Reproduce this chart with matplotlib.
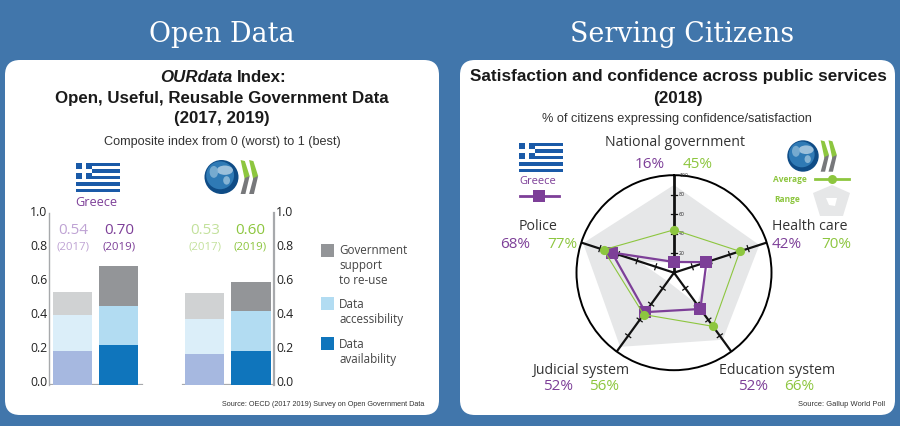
import numpy as np
import matplotlib
matplotlib.use("Agg")
import matplotlib.pyplot as plt
from matplotlib.patches import FancyBboxPatch, Rectangle, Polygon, Circle, Ellipse
from matplotlib.transforms import ScaledTranslation

# ---- data ----
bar_groups = ["Greece 2017", "Greece 2019", "OECD 2017", "OECD 2019"]
availability = [0.20, 0.23, 0.18, 0.20]
accessibility = [0.205, 0.23, 0.205, 0.23]
support = [0.135, 0.23, 0.15, 0.17]
bar_ticks = [0.0, 0.2, 0.4, 0.6, 0.8, 1.0]

services = ["National government", "Health care", "Education system", "Judicial system", "Police"]
greece_labels = ["16%", "42%", "52%", "52%", "68%"]
average_labels = ["45%", "70%", "66%", "56%", "77%"]
# marker radii as drawn in the picture
greece = [11, 35, 46, 50, 67]
average = [44, 71, 68, 53, 76]
range_high = [90, 92, 85, 94, 98]
range_low = [10, 40, 40, 11, 38]
radar_ticks = [20, 40, 60, 80, 100]

BLUE = "#4176ab"; PURPLE = "#7d3f98"; GREEN = "#8dc63f"; LPURPLE = "#bfa3d4"; LGREEN = "#c3e19c"
SANS = "Liberation Sans"; BODY = "Open Sans"
W, H = 900, 426
fig = plt.figure(figsize=(W/100, H/100), dpi=100, facecolor=BLUE)

def px_axes(x0, y0, x1, y1, **kw):
    return fig.add_axes([x0/W, 1-y1/H, (x1-x0)/W, (y1-y0)/H], **kw)

bg = px_axes(0, 0, W, H, zorder=0); bg.set_xlim(0, W); bg.set_ylim(H, 0); bg.axis("off")
for x0, x1 in [(5, 439), (460, 895)]:
    bg.add_patch(FancyBboxPatch((x0+15, 60+15), x1-x0-30, 355-30, boxstyle="round,pad=15,rounding_size=15",
                                fc="white", ec="none"))

ov = px_axes(0, 0, W, H, zorder=5); ov.set_xlim(0, W); ov.set_ylim(H, 0); ov.axis("off")
def T(x, y, s, size, color="#222222", family=BODY, ha="center", **kw):
    ov.text(x, y, s, fontsize=size, color=color, family=family, ha=ha, va="center", **kw)

T(222, 35, "Open Data", 19.4, "white", "DejaVu Serif")
T(682, 35, "Serving Citizens", 19.4, "white", "DejaVu Serif")
T(196, 78, "OURdata", 12.15, "#1a1a1a", SANS, fontweight="bold", fontstyle="italic")
T(262, 78, "Index:", 12.15, "#1a1a1a", SANS, fontweight="bold")
T(222, 98, "Open, Useful, Reusable Government Data", 12.15, "#1a1a1a", SANS, fontweight="bold")
T(222, 118, "(2017, 2019)", 12.15, "#1a1a1a", SANS, fontweight="bold")
T(222, 142, "Composite index from 0 (worst) to 1 (best)", 9.1, "#333333", SANS)
T(678, 77, "Satisfaction and confidence across public services", 12.3, "#1a1a1a", SANS, fontweight="bold")
T(678, 98, "(2018)", 12.3, "#1a1a1a", SANS, fontweight="bold")
T(677, 119, "% of citizens expressing confidence/satisfaction", 9.2, "#333333", SANS)
T(424, 404, "Source: OECD (2017 2019) Survey on Open Government Data", 5.25, "#333333", SANS, ha="right")
T(885, 404, "Source: Gallup World Poll", 5.4, "#333333", SANS, ha="right")

# flags
def flag(x, y, w=44, h=29):
    c = "#1a5aa8"
    n = 9; sh = h/n
    for i in range(0, n, 2):
        ov.add_patch(Rectangle((x, y+i*sh), w, sh, fc=c, ec="none"))
    ov.add_patch(Rectangle((x, y), sh*5, sh*5, fc=c, ec="none"))
    ov.add_patch(Rectangle((x+sh*2, y), sh, sh*5, fc="white", ec="none"))
    ov.add_patch(Rectangle((x, y+sh*2), sh*5, sh, fc="white", ec="none"))
flag(76, 163); flag(519, 143)
T(96, 202, "Greece", 9.2, PURPLE); T(538, 182, "Greece", 8, PURPLE)

# OECD logos
def logo(cx, cy, r):
    ov.add_patch(Circle((cx, cy), r, fc="#0f4c86", ec="none"))
    ov.add_patch(Circle((cx-r*0.08, cy-r*0.1), r*0.82, fc="#2f7ab5", ec="none"))
    ov.add_patch(Ellipse((cx+r*0.2, cy-r*0.4), r*0.95, r*0.55, fc="#a9c8e0", ec="none", alpha=.9))
    ov.add_patch(Ellipse((cx-r*0.45, cy-r*0.3), r*0.5, r*0.7, fc="#7fb0d3", ec="none", alpha=.9))
    ov.add_patch(Ellipse((cx+r*0.3, cy+r*0.2), r*0.4, r*0.5, fc="#8fbad8", ec="none", alpha=.9))
    s = r/16
    for dx in (0, 8*s):
        x0 = cx + r + 2*s + dx
        ov.add_patch(Polygon([(x0, cy-16*s), (x0+4*s, cy-15*s), (x0+8.5*s, cy-1*s), (x0+4*s, cy+3*s)],
                             fc=GREEN, ec="none"))
        ov.add_patch(Polygon([(x0+8.5*s, cy-1*s), (x0+4.5*s, cy+16*s), (x0, cy+16*s), (x0+4*s, cy+1*s)],
                             fc="#77787b", ec="none"))
logo(221.5, 177, 17); logo(803, 156, 15.7)

# ---- bar chart ----
ax = px_axes(49, 213, 274, 385, zorder=2)
ax.patch.set_alpha(0)
ax.set_xlim(49, 274); ax.set_ylim(0, 1)
pos = [72.5, 118.5, 204.5, 251]
c2017 = ["#a6b8e0", "#dbeef9", "#d0d2d3"]; c2019 = ["#0f75bc", "#b2dcf2", "#939598"]
bottom = np.zeros(4)
for k, vals in enumerate([availability, accessibility, support]):
    cols = [c2017[k], c2019[k], c2017[k], c2019[k]]
    ax.bar(pos, vals, width=39.5, bottom=bottom, color=cols, zorder=2, linewidth=0)
    bottom += np.array(vals)
for s in ["top", "bottom"]:
    ax.spines[s].set_visible(False)
ax.spines["left"].set_color("#a7a9ac"); ax.spines["left"].set_linewidth(1.0)
ax.spines["right"].set_color("#a7a9ac"); ax.spines["right"].set_linewidth(1.6)
ax.plot([49, 142], [0, 0], color="#a7a9ac", lw=1.6, zorder=1)
ax.plot([183, 274], [0, 0], color="#a7a9ac", lw=1.6, zorder=1)
ax.set_xticks([]); ax.set_yticks(bar_ticks)
ax.tick_params(axis="y", length=0, left=False, right=False, labelleft=False)
for v in bar_ticks:
    y = 382 - 170*v
    T(47.5, y, f"{v:.1f}", 8.8, "#222222", BODY, ha="right")
    T(276, y, f"{v:.1f}", 8.8, "#222222", BODY, ha="left")

for x, val, yr, col in [(73, "0.54", "(2017)", LPURPLE), (119, "0.70", "(2019)", PURPLE),
                        (205, "0.53", "(2017)", LGREEN), (250, "0.60", "(2019)", GREEN)]:
    T(x, 231, val, 11, col); T(x, 247, yr, 8.2, col)

# legend
for y, c in [(250.5, c2019[2]), (303.5, c2019[1]), (343.5, c2019[0])]:
    ov.add_patch(Rectangle((321, y-6.5), 13, 13, fc=c, ec="none"))
for y, s in [(251, "Government"), (266, "support"), (281, "to re-use"), (304, "Data"), (319, "accessibility"),
             (344, "Data"), (359, "availability")]:
    T(339, y, s, 8.4, "#444444", BODY, ha="left")

# ---- radar ----
rad = px_axes(674-97.5, 272.7-97.5, 674+97.5, 272.7+97.5, projection="polar", zorder=3)
rad.patch.set_alpha(0)
rad.set_theta_zero_location("N"); rad.set_theta_direction(-1)
rad.set_ylim(0, 100)
theta = np.linspace(0, 2*np.pi, 5, endpoint=False)
def close(v):
    return np.r_[theta, theta[0]], np.r_[v, v[0]]
rad.fill(*close(range_high), color="#e6e7e8", lw=0, zorder=1)
rad.fill(*close(range_low), color="white", lw=0, zorder=1.1)
rad.set_xticks([]); rad.set_yticks([]); rad.grid(False)
rad.spines["polar"].set_color("black"); rad.spines["polar"].set_linewidth(1.4)
for i, t in enumerate(theta):
    rad.plot([t, t], [0, 100], color="#111111", lw=2.0 if i == 0 else 1.6, zorder=2)
    for r in radar_ticks[:4]:
        d = 3.2/r  # half-length of the cross tick (radius units)
        rad.plot([t-d, t+d], [r, r], color="#111111", lw=0.9, zorder=2)
off = ScaledTranslation(5/100, 0, fig.dpi_scale_trans)
for r in radar_ticks:
    rad.text(0, r, str(r), fontsize=3.4, color="#333333", ha="left", va="center",
             transform=rad.transData + off)
rad.plot(*close(greece), color=PURPLE, lw=1.6, marker="s", ms=9, mew=0, zorder=4)
rad.plot(*close(average), color=GREEN, lw=0.8, zorder=5)
rad.plot(theta, average, ls="none", marker="o", ms=6.6, mew=0, color=GREEN, zorder=5)

for x, y, name in [(675, 143, services[0]), (810, 226, services[1]), (777, 370, services[2]),
                   (581, 370, services[3]), (538, 227, services[4])]:
    T(x, y, name, 10.2, "#333333")
pct_pos = [((650, 164), (698, 164)), ((787, 245), (836, 245)), ((753, 387), (799, 387)),
           ((558, 387), (604, 387)), ((515, 245), (562, 245))]
for (pg, pa), g, a in zip(pct_pos, greece_labels, average_labels):
    T(pg[0], pg[1], g, 11, PURPLE)
    T(pa[0], pa[1], a, 11, GREEN)

# radar legend
ov.plot([520, 559], [196, 196], color=PURPLE, lw=2)
ov.plot([539], [196], marker="s", ms=8, mew=0, color=PURPLE)
T(790, 180, "Average", 6, GREEN, fontweight="bold"); T(787, 200, "Range", 6, GREEN, fontweight="bold")
ov.plot([815, 849], [179, 179], color=GREEN, lw=2)
ov.plot([831.5], [178.5], marker="o", ms=6.5, mew=0, color=GREEN)
ov.add_patch(Polygon([(832, 185), (850, 193), (843, 216), (820, 216), (813, 193)], fc="#e6e7e8", ec="none"))
ov.add_patch(Polygon([(826, 198), (837, 198), (835, 206), (829, 205)], fc="white", ec="none"))
ov.set_xlim(0, W); ov.set_ylim(H, 0)

fig.savefig("out.png", dpi=100, facecolor=BLUE)
